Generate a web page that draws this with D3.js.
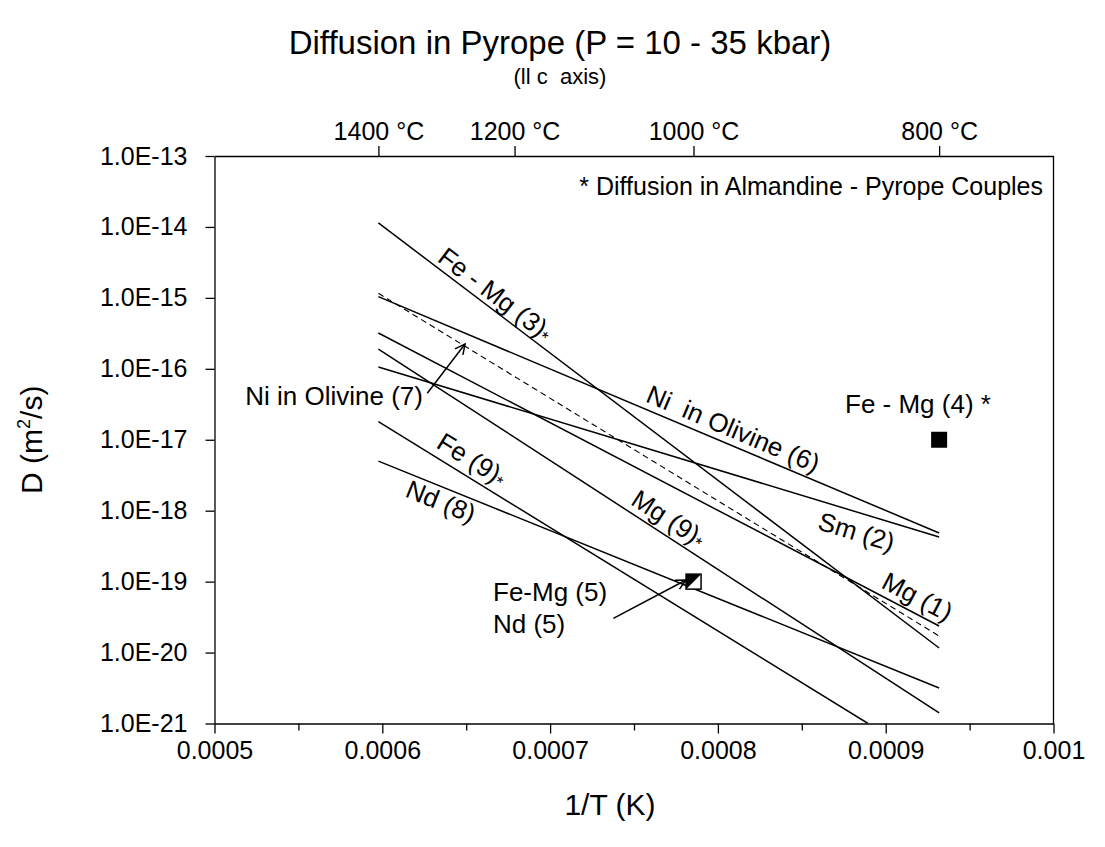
<!DOCTYPE html>
<html><head><meta charset="utf-8">
<script src="https://cdn.jsdelivr.net/npm/d3@7"></script>
<style>
body{margin:0;background:#fff;}
text{font-family:"Liberation Sans",Arial,sans-serif;fill:#000;white-space:pre;}
</style></head>
<body><svg id="c" width="1105" height="847"></svg>
<script>
// ---- data ----
const seriesNames = ["Fe - Mg (3)", "Ni  in Olivine (6)", "Ni in Olivine (7)", "Sm (2)", "Mg (1)", "Mg (9)", "Fe (9)", "Nd (8)"];
const seriesDashed = [false, false, true, false, false, false, false, false];
const seriesX = [
  [0.00059767, 0.00093184],
  [0.00059767, 0.00093184],
  [0.00059767, 0.00093184],
  [0.00059767, 0.00093184],
  [0.00059767, 0.00093184],
  [0.00059767, 0.00093184],
  [0.00059767, 0.00088945],
  [0.00059767, 0.00093184]
];
const seriesD = [
  [1.14e-14, 1.16e-20],
  [1.04e-15, 4.85e-19],
  [1.16e-15, 1.71e-20],
  [1.06e-16, 4.26e-19],
  [3.2e-16, 2.37e-20],
  [1.9e-16, 1.41e-21],
  [1.8e-17, 1.0e-21],
  [5.0e-18, 3.17e-21]
];
const pointNames = ["Fe - Mg (4)", "Fe-Mg (5)"];
const pointX = [0.00093184, 0.00078550];
const pointD = [1.0e-17, 1.0e-19];
const xTicks = [0.0005, 0.0006, 0.0007, 0.0008, 0.0009, 0.001];
const xTickLabels = ["0.0005", "0.0006", "0.0007", "0.0008", "0.0009", "0.001"];
const xMinorTicks = [0.00055, 0.00065, 0.00075, 0.00085, 0.00095];
const yTicks = [1e-13, 1e-14, 1e-15, 1e-16, 1e-17, 1e-18, 1e-19, 1e-20, 1e-21];
const yTickLabels = ["1.0E-13", "1.0E-14", "1.0E-15", "1.0E-16", "1.0E-17", "1.0E-18", "1.0E-19", "1.0E-20", "1.0E-21"];
const tempC = [1400, 1200, 1000, 800];
const tempLabels = ["1400 °C", "1200 °C", "1000 °C", "800 °C"];

// ---- layout ----
const W = 1105, H = 847;
const m = {left: 214.5, top: 156, right: 51.5, bottom: 123.5};
const svg = d3.select("#c");
const x = d3.scaleLinear().domain([0.0005, 0.001]).range([m.left, W - m.right]);
const y = d3.scaleLog().domain([1e-21, 1e-13]).range([H - m.bottom, m.top]);

const defs = svg.append("defs");
defs.append("clipPath").attr("id", "clip")
  .append("rect").attr("x", m.left).attr("y", m.top)
  .attr("width", W - m.left - m.right).attr("height", H - m.top - m.bottom);
const mk = defs.append("marker").attr("id", "arr")
  .attr("viewBox", "0 0 12 12").attr("refX", 11).attr("refY", 6)
  .attr("markerWidth", 12).attr("markerHeight", 12).attr("markerUnits", "userSpaceOnUse")
  .attr("orient", "auto");
mk.append("path").attr("d", "M1,1 L11,6 L1,11").attr("fill", "none").attr("stroke", "#000").attr("stroke-width", 1.5);

// axes
svg.append("g").attr("transform", `translate(0,${H - m.bottom})`)
  .call(d3.axisBottom(x).tickValues(xTicks).tickFormat((d, i) => xTickLabels[i]).tickSizeInner(10).tickSizeOuter(0).tickPadding(8));
svg.append("g").attr("class", "minor").attr("transform", `translate(0,${H - m.bottom})`)
  .call(d3.axisBottom(x).tickValues(xMinorTicks).tickFormat("").tickSizeInner(7).tickSizeOuter(0));
svg.select(".minor .domain").remove();
svg.append("g").attr("transform", `translate(${m.left},0)`)
  .call(d3.axisLeft(y).tickValues(yTicks).tickFormat((d, i) => yTickLabels[i]).tickSizeInner(9).tickSizeOuter(0).tickPadding(18));
svg.append("g").attr("transform", `translate(0,${m.top})`)
  .call(d3.axisTop(x).tickValues(tempC.map(t => 1 / (t + 273.15))).tickFormat((d, i) => tempLabels[i]).tickSizeInner(10).tickSizeOuter(0).tickPadding(6));
svg.append("line").attr("x1", W - m.right).attr("x2", W - m.right).attr("y1", m.top).attr("y2", H - m.bottom).attr("stroke", "#000").attr("stroke-width", 1.3);
svg.selectAll(".domain").attr("stroke-width", 1.3);
svg.selectAll(".tick line").attr("stroke-width", 1.3);
svg.selectAll(".tick text").style("font-family", '"Liberation Sans",Arial,sans-serif').style("font-size", "25px");

// lines
const plot = svg.append("g").attr("clip-path", "url(#clip)");
const lineGen = d3.line().x(d => x(d[0])).y(d => y(d[1]));
seriesNames.forEach((n, i) => {
  const pts = seriesX[i].map((xv, j) => [xv, seriesD[i][j]]);
  plot.append("path").attr("d", lineGen(pts)).attr("fill", "none").attr("stroke", "#000")
    .attr("stroke-width", seriesDashed[i] ? 1.1 : 1.5)
    .attr("stroke-dasharray", seriesDashed[i] ? "6,4" : null);
});

// points
const sq = 16;
svg.append("rect").attr("x", x(pointX[0]) - sq / 2).attr("y", y(pointD[0]) - sq / 2).attr("width", sq).attr("height", sq).attr("fill", "#000");
const px5 = x(pointX[1]), py5 = y(pointD[1]), s5 = 15;
svg.append("rect").attr("x", px5 - s5 / 2).attr("y", py5 - s5 / 2).attr("width", s5).attr("height", s5).attr("fill", "#fff").attr("stroke", "#000").attr("stroke-width", 1.5);
svg.append("path").attr("d", `M${px5 - s5 / 2},${py5 - s5 / 2} L${px5 + s5 / 2},${py5 - s5 / 2} L${px5 - s5 / 2},${py5 + s5 / 2} Z`).attr("fill", "#000");

// line labels
function lineLabel(i, xd, off, txt, star) {
  const x0 = x(seriesX[i][0]), x1 = x(seriesX[i][1]);
  const y0 = y(seriesD[i][0]), y1 = y(seriesD[i][1]);
  const ang = Math.atan2(y1 - y0, x1 - x0) * 180 / Math.PI;
  const t = (x(xd) - x0) / (x1 - x0);
  const px = x0 + t * (x1 - x0), py = y0 + t * (y1 - y0);
  const tx = svg.append("text").attr("transform", `translate(${px},${py}) rotate(${ang})`)
    .attr("y", -off).attr("text-anchor", "middle").style("font-size", "26px");
  tx.append("tspan").text(txt);
  if (star) tx.append("tspan").text("*").style("font-size", "17px").attr("dy", 2);
}
lineLabel(0, 0.0006624, 5, "Fe - Mg (3)", true);
lineLabel(1, 0.0008054, 7, "Ni  in Olivine (6)", false);
lineLabel(3, 0.0008859, -28, "Sm (2)", false);
lineLabel(4, 0.0009145, 7, "Mg (1)", false);
lineLabel(5, 0.0007655, 7, "Mg (9)", true);
lineLabel(6, 0.0006481, 8, "Fe (9)", true);
lineLabel(7, 0.000638, -23, "Nd (8)", false);

// annotations
svg.append("text").attr("x", 423).attr("y", 405).attr("text-anchor", "end").style("font-size", "26px").text("Ni in Olivine (7)");
svg.append("line").attr("x1", x(0.0006268)).attr("y1", y(Math.pow(10, -16.345))).attr("x2", x(0.0006493)).attr("y2", y(Math.pow(10, -15.65)))
  .attr("stroke", "#000").attr("stroke-width", 1.5).attr("marker-end", "url(#arr)");
svg.append("text").attr("x", 493).attr("y", 601).style("font-size", "26px").text("Fe-Mg (5)");
svg.append("text").attr("x", 493).attr("y", 633).style("font-size", "26px").text("Nd (5)");
svg.append("line").attr("x1", x(0.0007377)).attr("y1", y(Math.pow(10, -19.517))).attr("x2", x(0.000781)).attr("y2", y(Math.pow(10, -18.977)))
  .attr("stroke", "#000").attr("stroke-width", 1.5).attr("marker-end", "url(#arr)");
svg.append("text").attr("x", 845).attr("y", 413).style("font-size", "26px").text("Fe - Mg (4) *");
svg.append("text").attr("x", 1043).attr("y", 195).attr("text-anchor", "end").style("font-size", "25px").text("* Diffusion in Almandine - Pyrope Couples");

// titles
svg.append("text").attr("x", 560).attr("y", 54).attr("text-anchor", "middle").style("font-size", "33px").text("Diffusion in Pyrope (P = 10 - 35 kbar)");
svg.append("text").attr("x", 560).attr("y", 84).attr("text-anchor", "middle").style("font-size", "22px").text("(ll c  axis)");
svg.append("text").attr("x", 610).attr("y", 815).attr("text-anchor", "middle").style("font-size", "30px").text("1/T (K)");
const yl = svg.append("text").attr("transform", `translate(42,${(m.top + H - m.bottom) / 2}) rotate(-90)`).attr("text-anchor", "middle").style("font-size", "30px");
yl.append("tspan").text("D (m");
yl.append("tspan").text("2").style("font-size", "18px").attr("dy", -12);
yl.append("tspan").text("/s)").attr("dy", 12);
</script></body></html>
